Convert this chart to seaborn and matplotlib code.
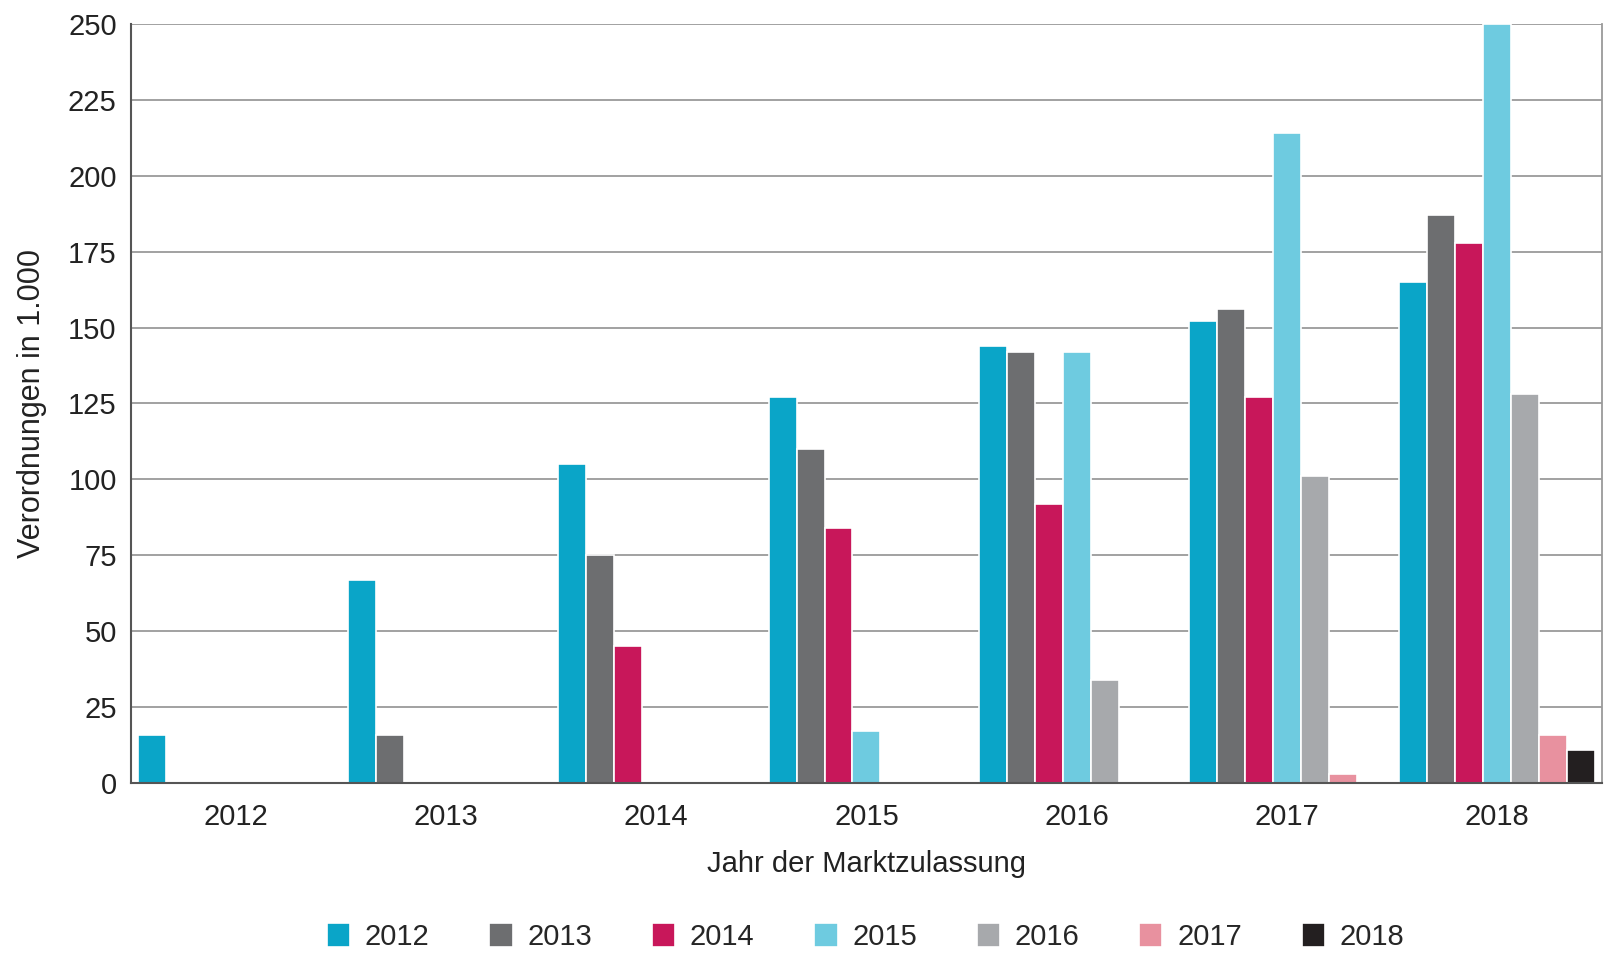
import pandas as pd
import matplotlib
matplotlib.use("Agg")
import matplotlib.pyplot as plt
import seaborn as sns

# Jahr der Marktzulassung (x groups)
zulassung = ["2012", "2013", "2014", "2015", "2016", "2017", "2018"]
# Verordnungsjahr (hue levels)
jahre = ["2012", "2013", "2014", "2015", "2016", "2017", "2018"]
colors = ["#0aa5c8", "#6d6e70", "#c8175a", "#6ecbe0", "#a7a9ac", "#e8919f", "#231f20"]

# values per Verordnungsjahr, one entry per Zulassungsjahr (ending with 2018)
v2012 = [16, 67, 105, 127, 144, 152, 165]
v2013 = [16, 75, 110, 142, 156, 187]
v2014 = [45, 84, 92, 127, 178]
v2015 = [17, 142, 214, 250]
v2016 = [34, 101, 128]
v2017 = [3, 16]
v2018 = [11]
series = [v2012, v2013, v2014, v2015, v2016, v2017, v2018]

rows = []
for j, vals in zip(jahre, series):
    start = len(zulassung) - len(vals)
    for z, v in zip(zulassung[start:], vals):
        rows.append({"zulassung": z, "jahr": j, "wert": v})
df = pd.DataFrame(rows)

sns.set_theme(style="white")
plt.rcParams["font.family"] = ["Liberation Sans", "DejaVu Sans"]
FS = 21

fig = plt.figure(figsize=(16.12, 9.55), dpi=100)
ax = fig.add_axes([0.081, 0.180, 0.913, 0.795])

sns.barplot(data=df, x="zulassung", y="wert", hue="jahr",
            order=zulassung, hue_order=jahre, palette=colors,
            width=0.93, dodge=True, edgecolor="white", linewidth=1.2,
            saturation=1, ax=ax)

ax.set_ylim(0, 250)
ax.set_xlim(-0.5, 6.5)
ax.set_yticks(range(0, 251, 25))
ax.yaxis.grid(True, color="#9a9a9a", linewidth=1.3)
ax.set_axisbelow(True)
for side in ["left", "bottom"]:
    ax.spines[side].set_color("#555555")
    ax.spines[side].set_linewidth(1.5)
ax.spines["right"].set_color("#9a9a9a")
ax.spines["right"].set_linewidth(1.3)
ax.spines["top"].set_visible(False)

ax.tick_params(axis="y", which="major", length=0, labelsize=FS, colors="#222222", pad=10)
ax.tick_params(axis="x", which="major", length=0, labelsize=FS, colors="#222222", pad=14)
ax.set_xticks([i + 0.5 for i in range(6)], minor=True)
ax.tick_params(axis="x", which="minor", direction="in", length=12, width=1, color="#777777")

ax.set_xlabel("Jahr der Marktzulassung", fontsize=FS, color="#222222", labelpad=14)
ax.set_ylabel("Verordnungen in 1.000", fontsize=FS + 1, color="#222222")
ax.yaxis.set_label_coords(-0.057, 0.5)

handles, labels = ax.get_legend_handles_labels()
ax.legend(handles, labels, ncol=7, loc="center", bbox_to_anchor=(0.537, 0.019),
          bbox_transform=fig.transFigure, frameon=False, fontsize=FS,
          handlelength=0.8, handleheight=0.9, columnspacing=2.05, handletextpad=0.5)

fig.savefig("out.png", dpi=100)
